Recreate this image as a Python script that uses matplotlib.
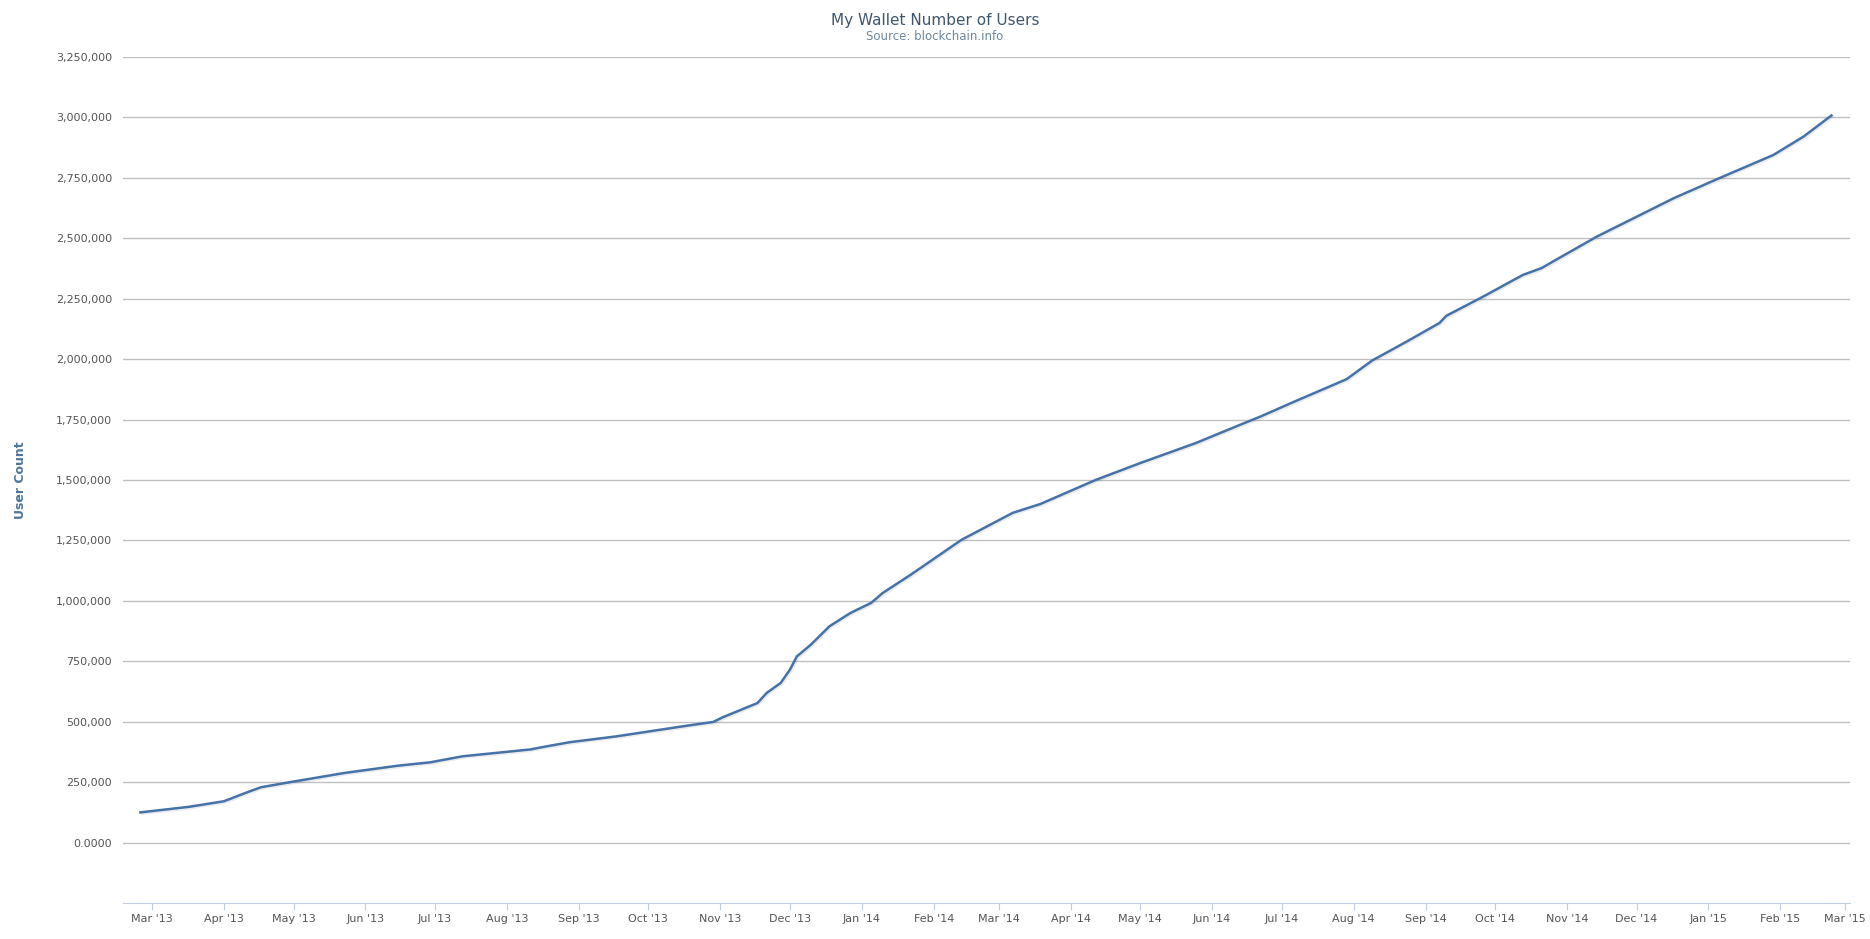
import numpy as np
import pandas as pd
import matplotlib; matplotlib.use("Agg")
import matplotlib.pyplot as plt
import matplotlib.dates as mdates
import matplotlib.patheffects as pe
from matplotlib.ticker import FuncFormatter

# --- values ---
dates = ['2013-02-24', '2013-03-17', '2013-04-01', '2013-04-11', '2013-04-17', '2013-05-02',
         '2013-05-23', '2013-06-15', '2013-06-29', '2013-07-13', '2013-08-11', '2013-08-17',
         '2013-08-28', '2013-09-17', '2013-10-16', '2013-10-29', '2013-11-02', '2013-11-17',
         '2013-11-21', '2013-11-27', '2013-12-01', '2013-12-04', '2013-12-10', '2013-12-18',
         '2013-12-27', '2014-01-05', '2014-01-10', '2014-01-22', '2014-02-13', '2014-03-07',
         '2014-03-19', '2014-04-12', '2014-05-01', '2014-05-25', '2014-06-13', '2014-06-22',
         '2014-07-05', '2014-07-29', '2014-08-09', '2014-08-24', '2014-09-07', '2014-09-10',
         '2014-09-26', '2014-10-13', '2014-10-21', '2014-10-29', '2014-11-14', '2014-12-17',
         '2015-01-04', '2015-01-29', '2015-02-11', '2015-02-23']
users = [126000, 149000, 172000, 209000, 230000, 255000,
         289000, 319000, 333000, 358000, 386000, 397000,
         416000, 440000, 482000, 500000, 519000, 578000,
         620000, 661000, 716000, 771000, 819000, 895000,
         950000, 992000, 1033000, 1108000, 1253000, 1364000,
         1401000, 1501000, 1570000, 1653000, 1728000, 1763000,
         1818000, 1917000, 1994000, 2073000, 2149000, 2179000,
         2259000, 2348000, 2376000, 2420000, 2507000, 2665000,
         2741000, 2844000, 2920000, 3007000]
x = pd.to_datetime(dates)

fig = plt.figure(figsize=(18.7, 9.39), dpi=100)
ax = fig.add_axes([0.0658, 0.038, 0.9235, 0.9016])

ax.plot(x, users, color='#4572A7', lw=1.8, solid_joinstyle='round',
        path_effects=[pe.SimpleLineShadow(offset=(1, -1), shadow_color='k', alpha=0.08), pe.Normal()])

ax.set_xlim(pd.Timestamp('2013-02-16 12:00'), pd.Timestamp('2015-03-03'))
ax.set_ylim(-250000, 3250000)
ax.set_yticks(np.arange(0, 3250001, 250000))
ax.yaxis.set_major_formatter(FuncFormatter(lambda v, p: '0.0000' if v == 0 else f'{int(v):,}'))
ax.grid(axis='y', color='#C0C0C0', lw=1)
ax.set_axisbelow(True)
ax.tick_params(axis='y', length=0, pad=8, labelsize=8, labelcolor='#555555')

ax.xaxis.set_major_locator(mdates.MonthLocator())
ax.xaxis.set_major_formatter(mdates.DateFormatter("%b '%y"))
ax.tick_params(axis='x', length=5, color='#C0D0E0', labelsize=8, labelcolor='#555555', pad=3)

for s in ['top', 'right', 'left']:
    ax.spines[s].set_visible(False)
ax.spines['bottom'].set_color('#C0D0E0')

ax.set_ylabel('User Count', color='#4D759E', fontsize=9, fontweight='bold')
ax.yaxis.set_label_coords(-0.0555, 0.5)

fig.text(0.5, 0.978, 'My Wallet Number of Users', ha='center', va='center', fontsize=11, color='#3E576F')
fig.text(0.5, 0.961, 'Source: blockchain.info', ha='center', va='center', fontsize=8.5, color='#6D869F')

fig.savefig('out.png', dpi=100)
